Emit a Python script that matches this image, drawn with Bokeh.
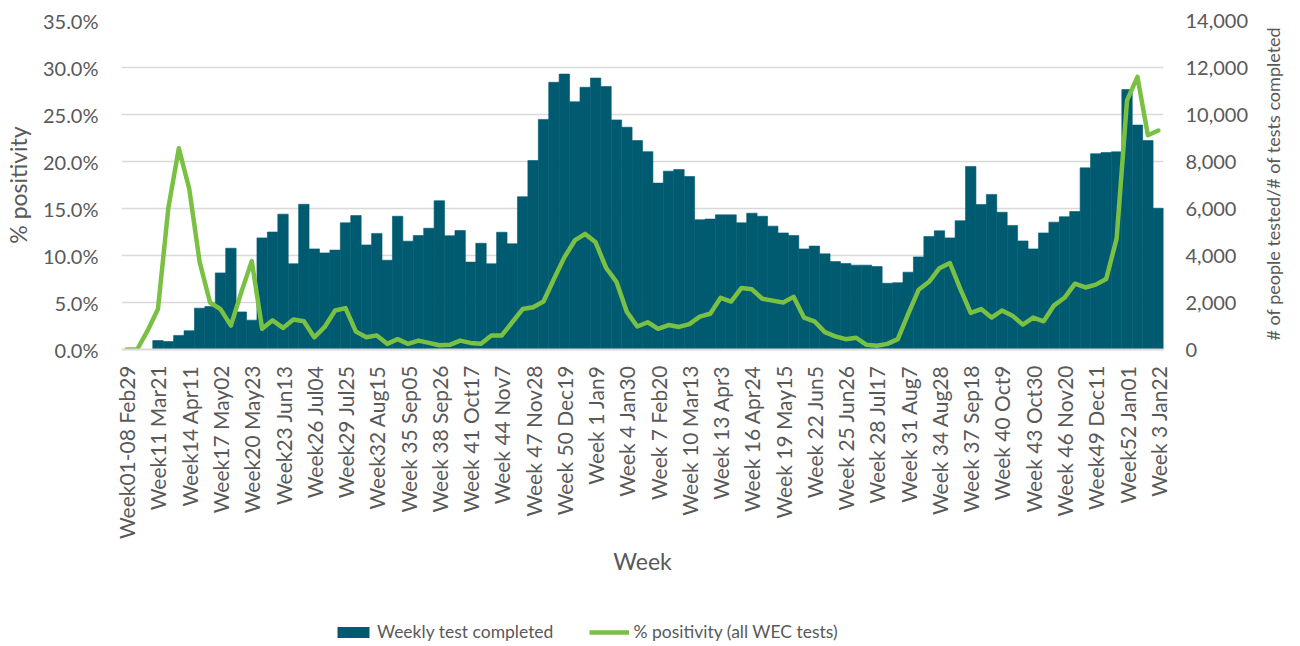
import math
from bokeh.plotting import figure
from bokeh.layouts import column, row
from bokeh.models import (Range1d, LinearAxis, FixedTicker, NumeralTickFormatter,
                          PrintfTickFormatter, Legend, LegendItem, ColumnDataSource, Label)
from bokeh.embed import file_html
from bokeh.resources import INLINE

NAN = float("nan")

# Weekly tests completed (right axis), one value per week, first three weeks have no bar
tests_completed = [
    NAN, NAN, NAN, 380, 340, 600, 800, 1760, 1830, 3260,
    4310, 1600, 1250, 4750, 5000, 5760, 3650, 6180, 4280, 4110,
    4230, 5390, 5700, 4450, 4940, 3800, 5670, 4610, 4850, 5160,
    6330, 4840, 5060, 3720, 4520, 3650, 4990, 4500, 6500, 8040,
    9790, 11370, 11720, 10540, 11160, 11550, 11190, 9770, 9460, 8890,
    8420, 7080, 7590, 7660, 7360, 5520, 5550, 5730, 5730, 5390,
    5800, 5670, 5250, 4960, 4850, 4280, 4400, 4070, 3740, 3660,
    3590, 3590, 3530, 2820, 2840, 3290, 3940, 4810, 5050, 4750,
    5480, 7790, 6170, 6600, 5840, 5280, 4620, 4280, 4960, 5420,
    5650, 5870, 7730, 8330, 8380, 8410, 11060, 9550, 8890, 6010,
]

# % positivity (left axis), in percent
positivity_pct = [
    0.0, 0.0, 2.0, 4.3, 15.1, 21.4, 17.1, 9.3, 5.0, 4.3,
    2.55, 6.1, 9.4, 2.2, 3.1, 2.3, 3.2, 3.0, 1.3, 2.4,
    4.15, 4.4, 1.9, 1.3, 1.5, 0.6, 1.1, 0.6, 0.95, 0.7,
    0.45, 0.5, 0.95, 0.7, 0.6, 1.5, 1.5, 2.9, 4.3, 4.5,
    5.1, 7.5, 9.8, 11.6, 12.3, 11.4, 8.7, 7.2, 4.0, 2.45,
    2.9, 2.2, 2.6, 2.4, 2.7, 3.5, 3.8, 5.5, 5.1, 6.55,
    6.4, 5.4, 5.2, 5.0, 5.6, 3.4, 3.0, 1.85, 1.4, 1.1,
    1.25, 0.5, 0.4, 0.6, 1.1, 3.8, 6.35, 7.2, 8.65, 9.2,
    6.45, 3.9, 4.3, 3.4, 4.15, 3.6, 2.65, 3.4, 3.0, 4.7,
    5.5, 7.0, 6.6, 6.9, 7.5, 11.8, 26.5, 29.0, 22.8, 23.3,
]

# Labels shown on the x axis (every third week)
tick_labels = [
    "Week01-08 Feb29", "Week11 Mar21", "Week14 Apr11", "Week17 May02", "Week20 May23",
    "Week23 Jun13", "Week26 Jul04", "Week29 Jul25", "Week32 Aug15", "Week 35 Sep05",
    "Week 38 Sep26", "Week 41 Oct17", "Week 44 Nov7", "Week 47 Nov28", "Week 50 Dec19",
    "Week 1 Jan9", "Week 4 Jan30", "Week 7 Feb20", "Week 10 Mar13", "Week 13 Apr3",
    "Week 16 Apr24", "Week 19 May15", "Week 22 Jun5", "Week 25 Jun26", "Week 28 Jul17",
    "Week 31 Aug7", "Week 34 Aug28", "Week 37 Sep18", "Week 40 Oct9", "Week 43 Oct30",
    "Week 46 Nov20", "Week49 Dec11", "Week52 Jan01", "Week 3 Jan22",
]
label_step = 3

pct_ticks = [0, 5, 10, 15, 20, 25, 30, 35]
test_ticks = [0, 2000, 4000, 6000, 8000, 10000, 12000, 14000]

left_title = "% positivity"
right_title = "# of people tested/# of tests completed"
x_title = "Week"
series_names = ["Weekly test completed", "% positivity (all WEC tests)"]

n = len(tests_completed)
week_index = list(range(n))
tick_positions = [i * label_step for i in range(len(tick_labels))]

FONT = "Lato"
TXT = "#595959"
GRID = "#D9D9D9"
BAR = "#005B70"
LINE = "#7AC143"

MAIN_W, MAIN_H = 1258, 616
PAGE_W, PAGE_H = 1300, 646

p = figure(width=MAIN_W, height=MAIN_H, output_backend="svg", toolbar_location=None,
           x_range=Range1d(-0.5, n - 0.5), y_range=Range1d(pct_ticks[0], pct_ticks[-1]),
           min_border_left=120, min_border_top=20, min_border_right=95,
           min_border_bottom=267)
p.outline_line_color = None
p.background_fill_color = "white"
p.border_fill_color = "white"

p.extra_y_ranges = {"tests": Range1d(test_ticks[0], test_ticks[-1])}

src = ColumnDataSource(dict(x=week_index, tests=tests_completed, pct=positivity_pct))

bars = p.vbar(x="x", top="tests", width=1.0, source=src, y_range_name="tests",
              fill_color=BAR, line_color=BAR, line_width=0.6)
ln = p.line(x="x", y="pct", source=src, line_color=LINE, line_width=4.5,
            line_join="round", line_cap="round")

# left axis
yl = p.yaxis[0]
yl.ticker = FixedTicker(ticks=pct_ticks)
yl.formatter = PrintfTickFormatter(format="%.1f%%")
yl.axis_label = left_title

# right axis (its title is drawn in a side strip so that it reads bottom-to-top)
yr = LinearAxis(y_range_name="tests", ticker=FixedTicker(ticks=test_ticks),
                formatter=NumeralTickFormatter(format="0,0"))
p.add_layout(yr, "right")

xa = p.xaxis[0]
xa.ticker = FixedTicker(ticks=tick_positions)
xa.major_label_overrides = {pos: lab for pos, lab in zip(tick_positions, tick_labels)}
xa.major_label_orientation = math.pi / 2
xa.axis_label = x_title

for ax in [yl, yr, xa]:
    ax.major_tick_line_color = None
    ax.minor_tick_line_color = None
    ax.major_tick_out = 0
    ax.major_tick_in = 0
    ax.minor_tick_out = 0
    ax.minor_tick_in = 0
    ax.major_label_text_font = FONT
    ax.major_label_text_font_size = "20px"
    ax.major_label_text_color = TXT
    ax.axis_label_text_font = FONT
    ax.axis_label_text_font_size = "23px"
    ax.axis_label_text_font_style = "normal"
    ax.axis_label_text_color = TXT

xa.major_label_text_font_size = "21px"
yl.axis_line_color = None
yr.axis_line_color = None
xa.axis_line_color = GRID
xa.axis_line_width = 2
yl.major_label_standoff = 23
yr.major_label_standoff = 22
yl.axis_label_standoff = 8
xa.major_label_standoff = 16
xa.axis_label_standoff = 5

p.xgrid.grid_line_color = None
p.ygrid.grid_line_color = GRID
p.ygrid.grid_line_width = 1.5
p.ygrid.ticker = FixedTicker(ticks=pct_ticks[1:])

# narrow strip holding the right-hand axis title (its frame lines up with the main frame)
TW = PAGE_W - MAIN_W
tf = figure(width=TW, height=MAIN_H, output_backend="svg", toolbar_location=None,
            x_range=Range1d(0, TW), y_range=Range1d(pct_ticks[0], pct_ticks[-1]),
            min_border=0)
tf.axis.visible = False
tf.grid.visible = False
tf.outline_line_color = None
tf.add_layout(Label(x=1272 - MAIN_W, y=(pct_ticks[0] + pct_ticks[-1]) / 2 + 0.15,
                    text=right_title, angle=math.pi / 2,
                    text_align="center", text_baseline="middle", text_font=FONT,
                    text_font_size="18px", text_color=TXT))

# strip holding the legend; its glyphs come from the same data, kept far out of view
lf = figure(width=PAGE_W, height=PAGE_H - MAIN_H, output_backend="svg", toolbar_location=None,
            x_range=Range1d(1e6, 2e6), y_range=Range1d(1e6, 2e6), min_border=0)
lf.axis.visible = False
lf.grid.visible = False
lf.outline_line_color = None
lb = lf.vbar(x="x", top="tests", width=1.0, source=src, fill_color=BAR, line_color=None)
ll = lf.line(x="x", y="pct", source=src, line_color=LINE, line_width=4.5)
legend = Legend(items=[LegendItem(label=series_names[0], renderers=[lb]),
                       LegendItem(label=series_names[1], renderers=[ll])],
                orientation="horizontal", location=(333, 4),
                label_text_font=FONT, label_text_font_size="17.5px", label_text_color=TXT,
                glyph_width=40, glyph_height=14, label_standoff=4, spacing=36,
                border_line_color=None, background_fill_alpha=0, margin=0, padding=0)
lf.add_layout(legend, "center")

layout = column(row(p, tf), lf)
open("out.html", "w").write(file_html(layout, INLINE))
